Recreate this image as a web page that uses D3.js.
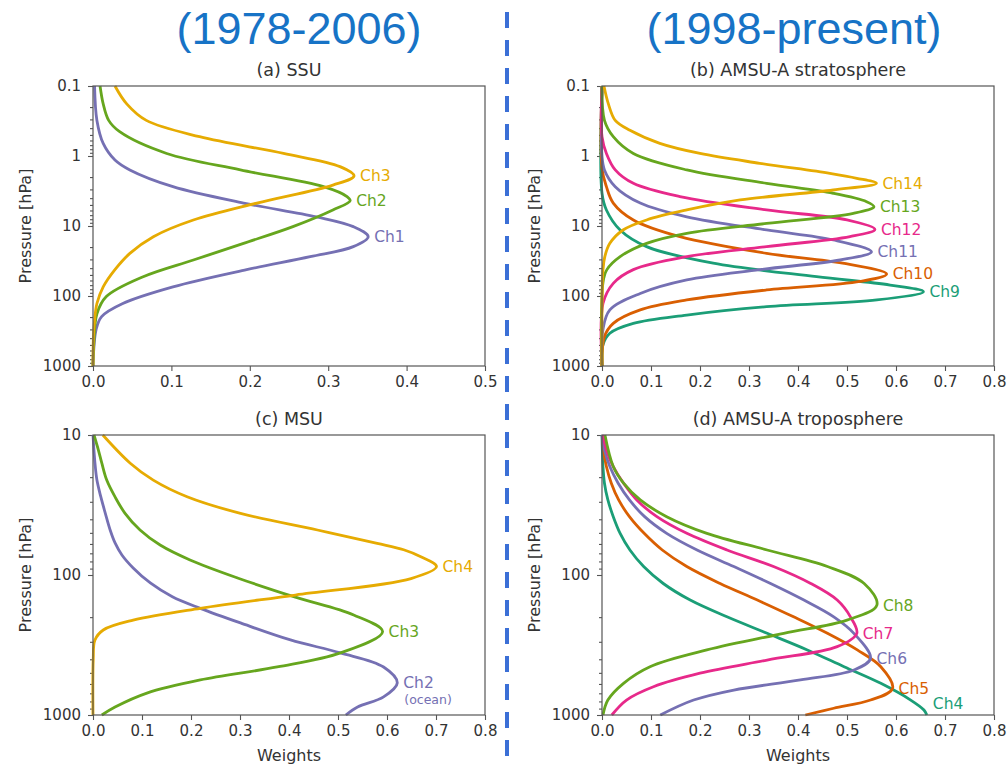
<!DOCTYPE html>
<html>
<head>
<meta charset="utf-8">
<script src="https://cdn.jsdelivr.net/npm/d3@7"></script>
<style>
  body { margin: 0; background: #fff; }
  text { font-family: "DejaVu Sans", sans-serif; }
</style>
</head>
<body>
<div id="chart"></div>
<script>
// weighting functions: [pressure hPa, weight]
const ssuCh1 = [[0.1,0.002],[0.31,0.005],[0.66,0.013],[1.14,0.028],[1.58,0.047],[2.74,0.102],[4.7,0.192],[7.4,0.285],[10.2,0.332],[14.2,0.351],[19.7,0.332],[27.4,0.277],[42,0.196],[74,0.102],[128,0.038],[197,0.011],[300,0.004],[1000,0]];
const ssuCh2 = [[0.1,0.009],[0.18,0.013],[0.31,0.02],[0.45,0.034],[0.92,0.094],[1.58,0.188],[2.74,0.294],[3.8,0.324],[4.35,0.328],[5.9,0.306],[10.2,0.255],[17.7,0.192],[30.6,0.128],[53,0.064],[102,0.017],[180,0.005],[480,0.001],[1000,0]];
const ssuCh3 = [[0.1,0.028],[0.18,0.043],[0.31,0.068],[0.53,0.136],[0.92,0.243],[1.42,0.315],[1.93,0.333],[2.6,0.306],[4.7,0.209],[8.2,0.128],[14.2,0.077],[24.6,0.047],[42,0.028],[74,0.013],[128,0.005],[223,0.002],[400,0.0005],[1000,0]];

const strCh9 = [[0.1,0],[3.4,0],[5.9,0.009],[11.4,0.037],[19.7,0.091],[34,0.227],[53,0.438],[69.7,0.588],[86.7,0.656],[114,0.561],[142,0.336],[187,0.173],[246,0.064],[341,0.016],[500,0.002],[1000,0]];
const strCh10 = [[0.1,0],[1.5,0],[2.74,0.009],[4.7,0.023],[8.2,0.064],[14.2,0.159],[24.6,0.336],[34,0.491],[48.5,0.581],[62,0.527],[82,0.336],[114,0.173],[158,0.078],[246,0.023],[380,0.005],[1000,0]];
const strCh11 = [[0.1,0],[1,0],[1.58,0.005],[2.74,0.027],[4.7,0.078],[7.4,0.173],[11.4,0.336],[15.8,0.472],[23.3,0.55],[30.6,0.486],[42,0.322],[59,0.173],[92,0.078],[158,0.016],[300,0.002],[1000,0]];
const strCh12 = [[0.1,0],[0.53,0],[0.92,0.009],[1.58,0.027],[2.46,0.064],[3.8,0.159],[5.9,0.336],[8.2,0.5],[11.2,0.557],[14.2,0.506],[19.7,0.336],[27.4,0.173],[42,0.064],[66,0.023],[128,0.002],[1000,0]];
const strCh13 = [[0.1,0],[0.31,0.005],[0.53,0.023],[0.92,0.064],[1.58,0.173],[2.46,0.336],[3.41,0.472],[4.49,0.54],[5.3,0.555],[6.6,0.513],[9.2,0.336],[12.7,0.173],[17.7,0.091],[27.4,0.037],[42,0.01],[64,0.002],[1000,0]];
const strCh14 = [[0.1,0.004],[0.18,0.013],[0.31,0.027],[0.43,0.057],[0.66,0.118],[0.92,0.2],[1.27,0.322],[1.77,0.465],[2.08,0.52],[2.46,0.56],[3.06,0.472],[4.25,0.282],[5.9,0.173],[8.2,0.091],[11.4,0.043],[17.7,0.016],[27,0.006],[42,0.002],[1000,0]];

const msuCh2 = [[10,0],[15.9,0.004],[21,0.008],[27.7,0.016],[36.1,0.025],[47.7,0.035],[59,0.045],[71.9,0.059],[89,0.082],[114,0.117],[143,0.162],[173,0.219],[220,0.301],[291,0.403],[360,0.505],[454,0.593],[590,0.621],[743,0.593],[877,0.54],[1000,0.516]];
const msuCh3 = [[10,0.002],[12.8,0.011],[15.9,0.018],[21,0.028],[27.7,0.045],[36.1,0.065],[47.7,0.096],[61.1,0.137],[78.1,0.198],[105,0.295],[144,0.413],[193,0.532],[254,0.591],[360,0.505],[454,0.376],[562,0.219],[697,0.11],[877,0.045],[1000,0.018]];
const msuCh4 = [[10,0.02],[15.9,0.076],[21,0.123],[27.6,0.192],[36.3,0.301],[47.7,0.458],[59.4,0.58],[66,0.634],[74,0.669],[87,0.701],[106,0.649],[139,0.413],[173,0.219],[210,0.082],[247,0.021],[291,0.004],[400,0.0005],[1000,0]];

const trpCh4 = [[10,0],[16.8,0.002],[22.1,0.005],[29.1,0.012],[38.3,0.023],[50.4,0.037],[66.3,0.057],[87,0.085],[115,0.125],[151,0.18],[199,0.255],[261,0.337],[343,0.419],[452,0.494],[594,0.569],[782,0.63],[921,0.657],[1000,0.663]];
const trpCh5 = [[10,0.001],[12.8,0.003],[16.8,0.009],[22.1,0.019],[29.1,0.034],[38.3,0.056],[50.4,0.086],[66.3,0.123],[87,0.173],[115,0.241],[151,0.317],[199,0.391],[261,0.46],[343,0.521],[452,0.569],[646,0.593],[782,0.548],[895,0.473],[1000,0.415]];
const trpCh6 = [[10,0],[12.8,0.005],[16.8,0.016],[22.1,0.033],[29.1,0.056],[38.3,0.087],[50.4,0.132],[66.3,0.194],[87,0.269],[115,0.344],[151,0.412],[199,0.473],[261,0.514],[394,0.548],[477,0.514],[562,0.405],[663,0.269],[782,0.187],[1000,0.119]];
const trpCh7 = [[10,0.002],[12.8,0.009],[16.8,0.023],[22.1,0.044],[29.1,0.071],[38.3,0.112],[50.4,0.173],[66.3,0.255],[87,0.35],[115,0.426],[151,0.48],[199,0.507],[261,0.52],[325,0.48],[405,0.337],[503,0.2],[628,0.105],[782,0.05],[1000,0.02]];
const trpCh8 = [[10,0.006],[16.8,0.023],[22.1,0.044],[29.1,0.078],[38.3,0.132],[50.4,0.214],[66.3,0.337],[87,0.46],[115,0.535],[164,0.561],[210,0.5],[261,0.371],[343,0.214],[452,0.098],[594,0.044],[782,0.012],[1000,0.002]];

const xTicksA = [0, 0.1, 0.2, 0.3, 0.4, 0.5];
const xTicksB = [0, 0.1, 0.2, 0.3, 0.4, 0.5, 0.6, 0.7, 0.8];
const yTicksTop = [0.1, 1, 10, 100, 1000];
const yTicksBot = [10, 100, 1000];

const eraLabels = ["(1978-2006)", "(1998-present)"];

// Dark2 colours
const c = {teal: "#1b9e77", orange: "#d95f02", purple: "#7570b3", pink: "#e7298a", green: "#66a61e", yellow: "#e6ab02"};

const panels = [
  {title: "(a) SSU", left: 93, top: 86, xMax: 0.5, xTicks: xTicksA, yDom: [0.1, 1000], yTicks: yTicksTop, xlabel: false,
   series: [{name: "Ch1", data: ssuCh1, color: c.purple}, {name: "Ch2", data: ssuCh2, color: c.green}, {name: "Ch3", data: ssuCh3, color: c.yellow}]},
  {title: "(b) AMSU-A stratosphere", left: 602, top: 86, xMax: 0.8, xTicks: xTicksB, yDom: [0.1, 1000], yTicks: yTicksTop, xlabel: false,
   series: [{name: "Ch9", data: strCh9, color: c.teal}, {name: "Ch10", data: strCh10, color: c.orange}, {name: "Ch11", data: strCh11, color: c.purple},
            {name: "Ch12", data: strCh12, color: c.pink}, {name: "Ch13", data: strCh13, color: c.green}, {name: "Ch14", data: strCh14, color: c.yellow}]},
  {title: "(c) MSU", left: 93, top: 435, xMax: 0.8, xTicks: xTicksB, yDom: [10, 1000], yTicks: yTicksBot, xlabel: true,
   series: [{name: "Ch2", data: msuCh2, color: c.purple, sub: "(ocean)"}, {name: "Ch3", data: msuCh3, color: c.green}, {name: "Ch4", data: msuCh4, color: c.yellow}]},
  {title: "(d) AMSU-A troposphere", left: 602, top: 435, xMax: 0.8, xTicks: xTicksB, yDom: [10, 1000], yTicks: yTicksBot, xlabel: true,
   series: [{name: "Ch4", data: trpCh4, color: c.teal}, {name: "Ch5", data: trpCh5, color: c.orange}, {name: "Ch6", data: trpCh6, color: c.purple},
            {name: "Ch7", data: trpCh7, color: c.pink}, {name: "Ch8", data: trpCh8, color: c.green}]}
];

const W = 1007, H = 766, pw = 392, ph = 280;
const axisColor = "#555", textColor = "#333";

const svg = d3.select("#chart").append("svg")
  .attr("width", W).attr("height", H);

// era headers + divider
svg.selectAll(".era").data(eraLabels).join("text")
  .attr("x", (d, i) => i ? 794 : 299)
  .attr("y", 44)
  .attr("text-anchor", "middle")
  .style("font-family", "'Liberation Sans', Arial, sans-serif")
  .style("font-size", "45px")
  .attr("fill", "#1773c6")
  .text(d => d);

svg.append("line")
  .attr("x1", 507).attr("x2", 507).attr("y1", 12).attr("y2", H)
  .attr("stroke", "#3b6fd6").attr("stroke-width", 4)
  .attr("stroke-dasharray", "16 12");

panels.forEach(p => {
  const g = svg.append("g").attr("transform", `translate(${p.left},${p.top})`);
  const x = d3.scaleLinear().domain([0, p.xMax]).range([0, pw]);
  const y = d3.scaleLog().domain(p.yDom).range([0, ph]);

  // minor log ticks
  const minor = [];
  for (let dec = p.yDom[0]; dec < p.yDom[1]; dec *= 10)
    for (let k = 2; k < 10; k++) minor.push(dec * k);

  const yMinor = g.append("g").call(d3.axisLeft(y).tickValues(minor).tickSize(3).tickFormat(""));
  const yMajor = g.append("g").call(d3.axisLeft(y).tickValues(p.yTicks).tickSize(5).tickPadding(7)
    .tickFormat(d => d < 1 ? d.toFixed(1) : d3.format("d")(d)));
  const xAx = g.append("g").attr("transform", `translate(0,${ph})`)
    .call(d3.axisBottom(x).tickValues(p.xTicks).tickSize(5).tickPadding(5).tickFormat(d3.format(".1f")));

  [yMinor, yMajor, xAx].forEach(a => {
    a.select(".domain").remove();
    a.selectAll(".tick line").attr("stroke", axisColor).attr("stroke-width", 1.1);
    a.selectAll(".tick text").attr("fill", textColor).style("font-size", "15px").style("font-family", "'DejaVu Sans', sans-serif");
  });

  const line = d3.line()
    .x(d => x(d[1])).y(d => y(d[0]))
    .curve(d3.curveCatmullRom.alpha(0.5));

  g.selectAll(".curve").data(p.series).join("path")
    .attr("d", s => line(s.data))
    .attr("fill", "none")
    .attr("stroke", s => s.color)
    .attr("stroke-width", 2.8)
    .attr("stroke-linejoin", "round");

  // frame
  g.append("rect").attr("width", pw).attr("height", ph)
    .attr("fill", "none").attr("stroke", axisColor).attr("stroke-width", 1.2);

  // channel labels next to each peak
  p.series.forEach(s => {
    const pk = s.data.reduce((a, b) => b[1] > a[1] ? b : a);
    const lx = x(pk[1]) + 6, ly = Math.min(y(pk[0]), ph - 11);
    g.append("text").attr("x", lx).attr("y", ly).attr("dy", "0.35em")
      .attr("fill", s.color).style("font-size", "15.5px").text(s.name);
    if (s.sub) {
      g.append("text").attr("x", lx + 1).attr("y", ly + 17).attr("dy", "0.35em")
        .attr("fill", s.color).style("font-size", "12.5px").text(s.sub);
    }
  });

  g.append("text").attr("x", pw / 2).attr("y", -10)
    .attr("text-anchor", "middle").attr("fill", textColor)
    .style("font-size", "17.5px").text(p.title);

  g.append("text")
    .attr("transform", `translate(${p.left < 300 ? 31 - p.left : 540 - p.left},${ph / 2}) rotate(-90)`)
    .attr("text-anchor", "middle").attr("fill", textColor)
    .style("font-size", "16px").text("Pressure [hPa]");

  if (p.xlabel) {
    g.append("text").attr("x", pw / 2).attr("y", ph + 46)
      .attr("text-anchor", "middle").attr("fill", textColor)
      .style("font-size", "16px").text("Weights");
  }
});
</script>
</body>
</html>
